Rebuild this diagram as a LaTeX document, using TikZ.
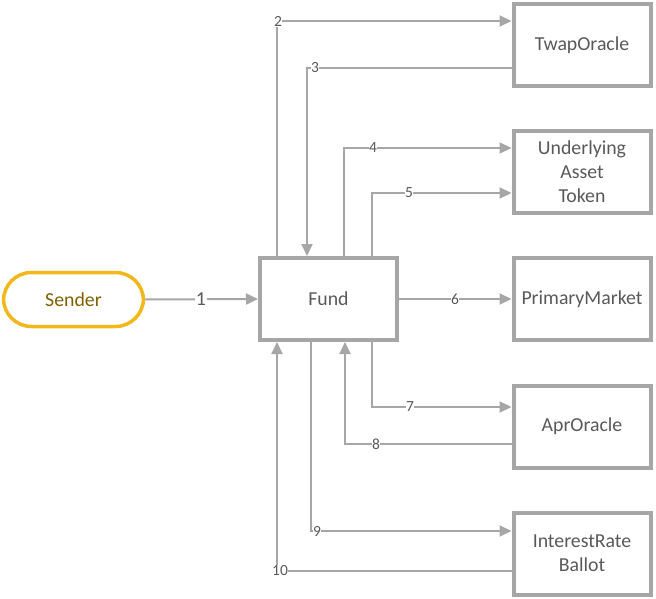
\documentclass[tikz,border=0pt]{standalone}
\usepackage{fontspec}
\setmainfont{Carlito}
\usetikzlibrary{arrows.meta}
\definecolor{ln}{HTML}{A6A6A6}
\definecolor{tx}{HTML}{595959}
\definecolor{gold}{HTML}{F2B71B}
\definecolor{goldtx}{HTML}{7F6000}
\begin{document}
\begin{tikzpicture}[x=1pt,y=-1pt,
  box/.style={draw=ln,line width=4pt,minimum width=137pt,minimum height=82pt,inner sep=0pt,text=tx,font=\fontsize{19.8}{24}\selectfont,align=center},
  pill/.style={draw=gold,line width=3.5pt,rounded corners=28pt,minimum width=140pt,minimum height=54pt,text=goldtx,font=\fontsize{19.8}{24}\selectfont},
  arr/.style={draw=ln,line width=2pt,-{Triangle[length=12pt,width=11pt]}},
  lbl/.style={fill=white,inner sep=0.5pt,text=tx,font=\fontsize{15.5}{18}\selectfont}]
\useasboundingbox (0,0) rectangle (656,599);
\node[pill] (sender) at (73.5,299.5) {Sender};
\node[box] (fund) at (328.5,299) {Fund};
\node[box] (twap) at (582,45.5) {TwapOracle};
\node[box] (uat) at (582,172) {Underlying\\Asset\\Token};
\node[box] (pm) at (582,299) {PrimaryMarket};
\node[box] (apr) at (582,426.5) {AprOracle};
\node[box] (irb) at (582,553.5) {InterestRate\\Ballot};
\coordinate (c2) at (277,21);
\coordinate (c3) at (307,68);
\coordinate (c4) at (344,148);
\coordinate (c5) at (372,193);
\coordinate (c7) at (372,407);
\coordinate (c8) at (345,444);
\coordinate (c9) at (311,531);
\coordinate (c10) at (277,571);
% 1
\draw[arr] (sender.east) -- (fund.west);
\node[lbl,font=\fontsize{19.8}{24}\selectfont] at (201,299) {1};
% 2
\draw[arr] (fund.north -| c2) -- (c2) -- (twap.west |- c2);
\node[lbl] at (278,21) {2};
% 3
\draw[arr] (twap.west |- c3) -- (c3) -- (fund.north -| c3);
\node[lbl] at (315,68) {3};
% 4
\draw[arr] (fund.north -| c4) -- (c4) -- (uat.west |- c4);
\node[lbl] at (373,148) {4};
% 5
\draw[arr] (fund.north -| c5) -- (c5) -- (uat.west |- c5);
\node[lbl] at (409,193) {5};
% 6
\draw[arr] (fund.east) -- (pm.west);
\node[lbl] at (455,299) {6};
% 7
\draw[arr] (fund.south -| c7) -- (c7) -- (apr.west |- c7);
\node[lbl] at (410,407) {7};
% 8
\draw[arr] (apr.west |- c8) -- (c8) -- (fund.south -| c8);
\node[lbl] at (376,444) {8};
% 9
\draw[arr] (fund.south -| c9) -- (c9) -- (irb.west |- c9);
\node[lbl] at (317,531) {9};
% 10
\draw[arr] (irb.west |- c10) -- (c10) -- (fund.south -| c10);
\node[lbl] at (280,571) {10};
\end{tikzpicture}
\end{document}
